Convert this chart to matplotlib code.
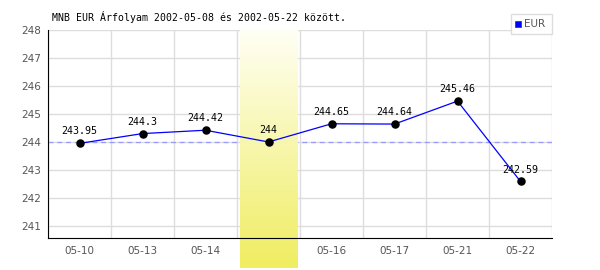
import numpy as np
import matplotlib
matplotlib.use('Agg')
import matplotlib.pyplot as plt

# ── 데이터 ────────────────────────────────────────────────
dates = ['05-10', '05-13', '05-14', '05-15', '05-16', '05-17', '05-21', '05-22']
eur = [243.95, 244.3, 244.42, 244, 244.65, 244.64, 245.46, 242.59]
labels = ['243.95', '244.3', '244.42', '244', '244.65', '244.64', '245.46', '242.59']
yticks = [241, 242, 243, 244, 245, 246, 247, 248]
highlight = 3          # 05-15
ref_value = 244

fig = plt.figure(figsize=(6, 2.7), dpi=100)
ax = fig.add_axes([48 / 600, 32 / 270, 504 / 600, 208 / 270])

x = np.arange(len(dates))
ax.set_xlim(-0.5, len(dates) - 0.5)
ax.set_ylim(240.57, 248)

# ── 그리드 ────────────────────────────────────────────────
for b in np.arange(-0.5, len(dates), 1.0):
    ax.axvline(b, color='#dddddd', lw=1, zorder=1)
for t in yticks:
    ax.axhline(t, color='#dddddd', lw=1, zorder=1)

# ── 기준선 ────────────────────────────────────────────────
ax.axhline(ref_value, color='#9999ff', lw=0.9, ls=(0, (4, 3)), zorder=2)

# ── 강조 구간 (그라데이션) ────────────────────────────────
t = np.linspace(0, 1, 256)[:, None, None]
c_top = np.array([1.0, 1.0, 0.96])
c_bot = np.array([0.94, 0.93, 0.38])
img = c_top + (c_bot - c_top) * t
ax.imshow(img, extent=(highlight - 0.452, highlight + 0.468, 239.5, 248),
          origin='upper', aspect='auto', zorder=3, clip_on=False)

# ── 시세 선 ───────────────────────────────────────────────
ax.plot(x, eur, color='#0000ff', lw=0.9, zorder=4)
ax.scatter(x, eur, s=26, color='black', zorder=5)
for xi, yi, lab in zip(x, eur, labels):
    ax.annotate(lab, (xi, yi), xytext=(0, 5), textcoords='offset points',
                ha='center', va='bottom', fontsize=7.2, family='DejaVu Sans Mono',
                color='black', zorder=6)

# ── 축 ────────────────────────────────────────────────────
ax.set_xticks(x)
ax.set_xticklabels(dates)
ax.set_yticks(yticks)
ax.tick_params(axis='both', length=0, labelsize=7.5, colors='#555555', pad=6)
ax.tick_params(axis='y', pad=5)
for s in ['top', 'right']:
    ax.spines[s].set_visible(False)
ax.spines['left'].set_color('black')
ax.spines['bottom'].set_color('black')
ax.spines['left'].set_zorder(7)
ax.spines['bottom'].set_zorder(7)

fig.text(52 / 600, 1 - 17 / 270, 'MNB EUR Árfolyam 2002-05-08 és 2002-05-22 között.',
         fontsize=7.1, family='DejaVu Sans Mono', va='center', ha='left')

# ── 범례 ──────────────────────────────────────────────────
lx, ly, lw_, lh = 511 / 600, 1 - 34 / 270, 41 / 600, 20 / 270
fig.patches.append(plt.Rectangle((lx, ly), lw_, lh, transform=fig.transFigure,
                                  facecolor='white', edgecolor='#dddddd', lw=1))
fig.patches.append(plt.Rectangle((lx + 4 / 600, ly + 7 / 270), 6 / 600, 6 / 270,
                                  transform=fig.transFigure, facecolor='#0000ff',
                                  edgecolor='#333333', lw=0.5))
fig.text(lx + 13 / 600, ly + lh / 2, 'EUR', fontsize=7.5, color='#555555',
         va='center', ha='left')

fig.savefig('out.png', dpi=100)
